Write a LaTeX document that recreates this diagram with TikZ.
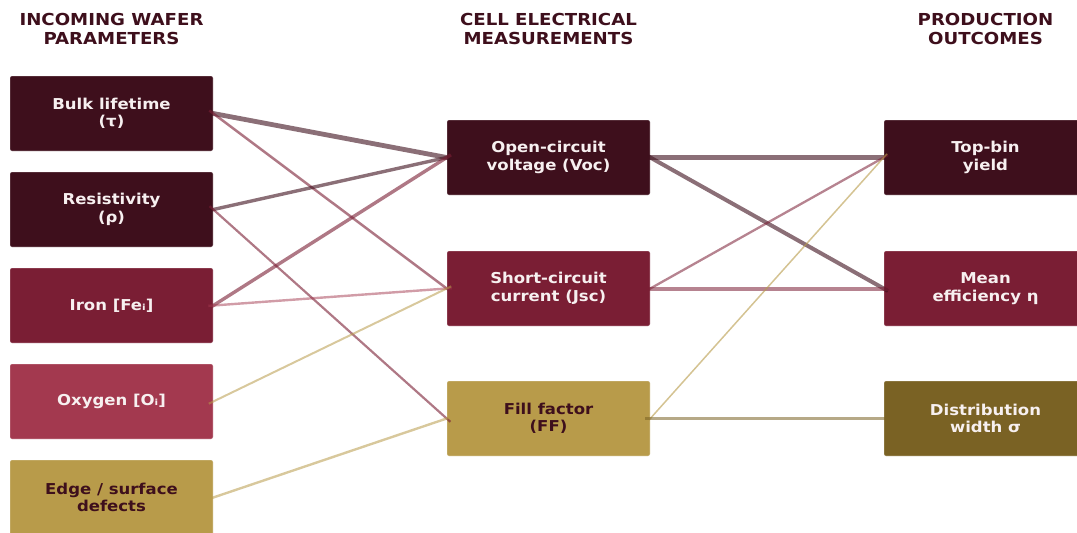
\documentclass[tikz,border=0pt]{standalone}
\usepackage{fontspec}
\newfontfamily\dvb{DejaVu Sans}[FakeStretch=1.1]
\definecolor{cdark}{HTML}{3E0F1C}
\definecolor{ccrim}{HTML}{7A1E34}
\definecolor{crose}{HTML}{A3394F}
\definecolor{cgold}{HTML}{B89B4A}
\definecolor{colive}{HTML}{7A6224}
\definecolor{ctxt}{HTML}{F7F0F0}
\tikzset{
  box/.style={rectangle, rounded corners=2pt, minimum width=203pt, minimum height=75pt,
    inner sep=0pt, align=center, font=\dvb\bfseries\fontsize{15}{17.5}\selectfont,
    draw=white, draw opacity=0.35, line width=0.6pt},
  bdark/.style={box, fill=cdark, text=ctxt},
  bcrim/.style={box, fill=ccrim, text=ctxt},
  brose/.style={box, fill=crose, text=ctxt},
  bgold/.style={box, fill=cgold, text=cdark},
  bolive/.style={box, fill=colive, text=ctxt},
  hdr/.style={align=center, text=cdark, inner sep=0pt, font=\dvb\bfseries\fontsize{16.5}{19.5}\selectfont},
  link/.style={line cap=butt, shorten <=-5pt, shorten >=-5pt, draw opacity=0.6},
}
\begin{document}
\begin{tikzpicture}[x=1pt,y=-1pt]
\useasboundingbox (0,0) rectangle (1077,533);
% headers
\node[hdr, anchor=base] (h1) at (111.5,44.5) {INCOMING WAFER\\PARAMETERS};
\node[hdr, anchor=base] (h2) at (548.5,44.5) {CELL ELECTRICAL\\MEASUREMENTS};
\node[hdr, anchor=base] (h3) at (985.5,44.5) {PRODUCTION\\OUTCOMES};
% left column
\node[bdark] (bulk) at (111.5,113.5) {Bulk lifetime\\(τ)};
\node[bdark] (res) at (111.5,209.5) {Resistivity\\(ρ)};
\node[bcrim] (iron) at (111.5,305.5) {Iron [Feᵢ]};
\node[brose] (oxy) at (111.5,401.5) {Oxygen [Oᵢ]};
\node[bgold] (edge) at (111.5,497.5) {Edge / surface\\defects};
% middle column
\node[bdark] (voc) at (548.5,157.5) {Open-circuit\\voltage (Voc)};
\node[bcrim] (jsc) at (548.5,288.5) {Short-circuit\\current (Jsc)};
\node[bgold] (ff) at (548.5,418.5) {Fill factor\\(FF)};
% right column
\node[bdark] (top) at (985.5,157.5) {Top-bin\\yield};
\node[bcrim] (mean) at (985.5,288.5) {Mean\\efficiency η};
\node[bolive] (dist) at (985.5,418.5) {Distribution\\width σ};
% links left -> middle
\draw[link, cdark, line width=4.8pt] (bulk.east) -- (voc.west);
\draw[link, ccrim, line width=2.5pt] (bulk.east) -- (jsc.west);
\draw[link, cdark, line width=3.4pt] (res.east) -- (voc.west);
\draw[link, ccrim, line width=2.2pt] (res.east) -- (ff.west);
\draw[link, ccrim, line width=3.4pt] (iron.east) -- (voc.west);
\draw[link, crose, line width=2.4pt, draw opacity=0.5] (iron.east) -- (jsc.west);
\draw[link, cgold, line width=2pt, draw opacity=0.55] (oxy.east) -- (jsc.west);
\draw[link, cgold, line width=2.4pt, draw opacity=0.55] (edge.east) -- (ff.west);
% links middle -> right
\draw[link, cdark, line width=5pt] (voc.east) -- (top.west);
\draw[link, cdark, line width=4pt] (voc.east) -- (mean.west);
\draw[link, ccrim, line width=2.3pt, draw opacity=0.55] (jsc.east) -- (top.west);
\draw[link, ccrim, line width=4pt, draw opacity=0.55] (jsc.east) -- (mean.west);
\draw[link, cgold, line width=1.5pt] (ff.east) -- (top.west);
\draw[link, colive, line width=3pt, draw opacity=0.55] (ff.east) -- (dist.west);
\end{tikzpicture}
\end{document}
